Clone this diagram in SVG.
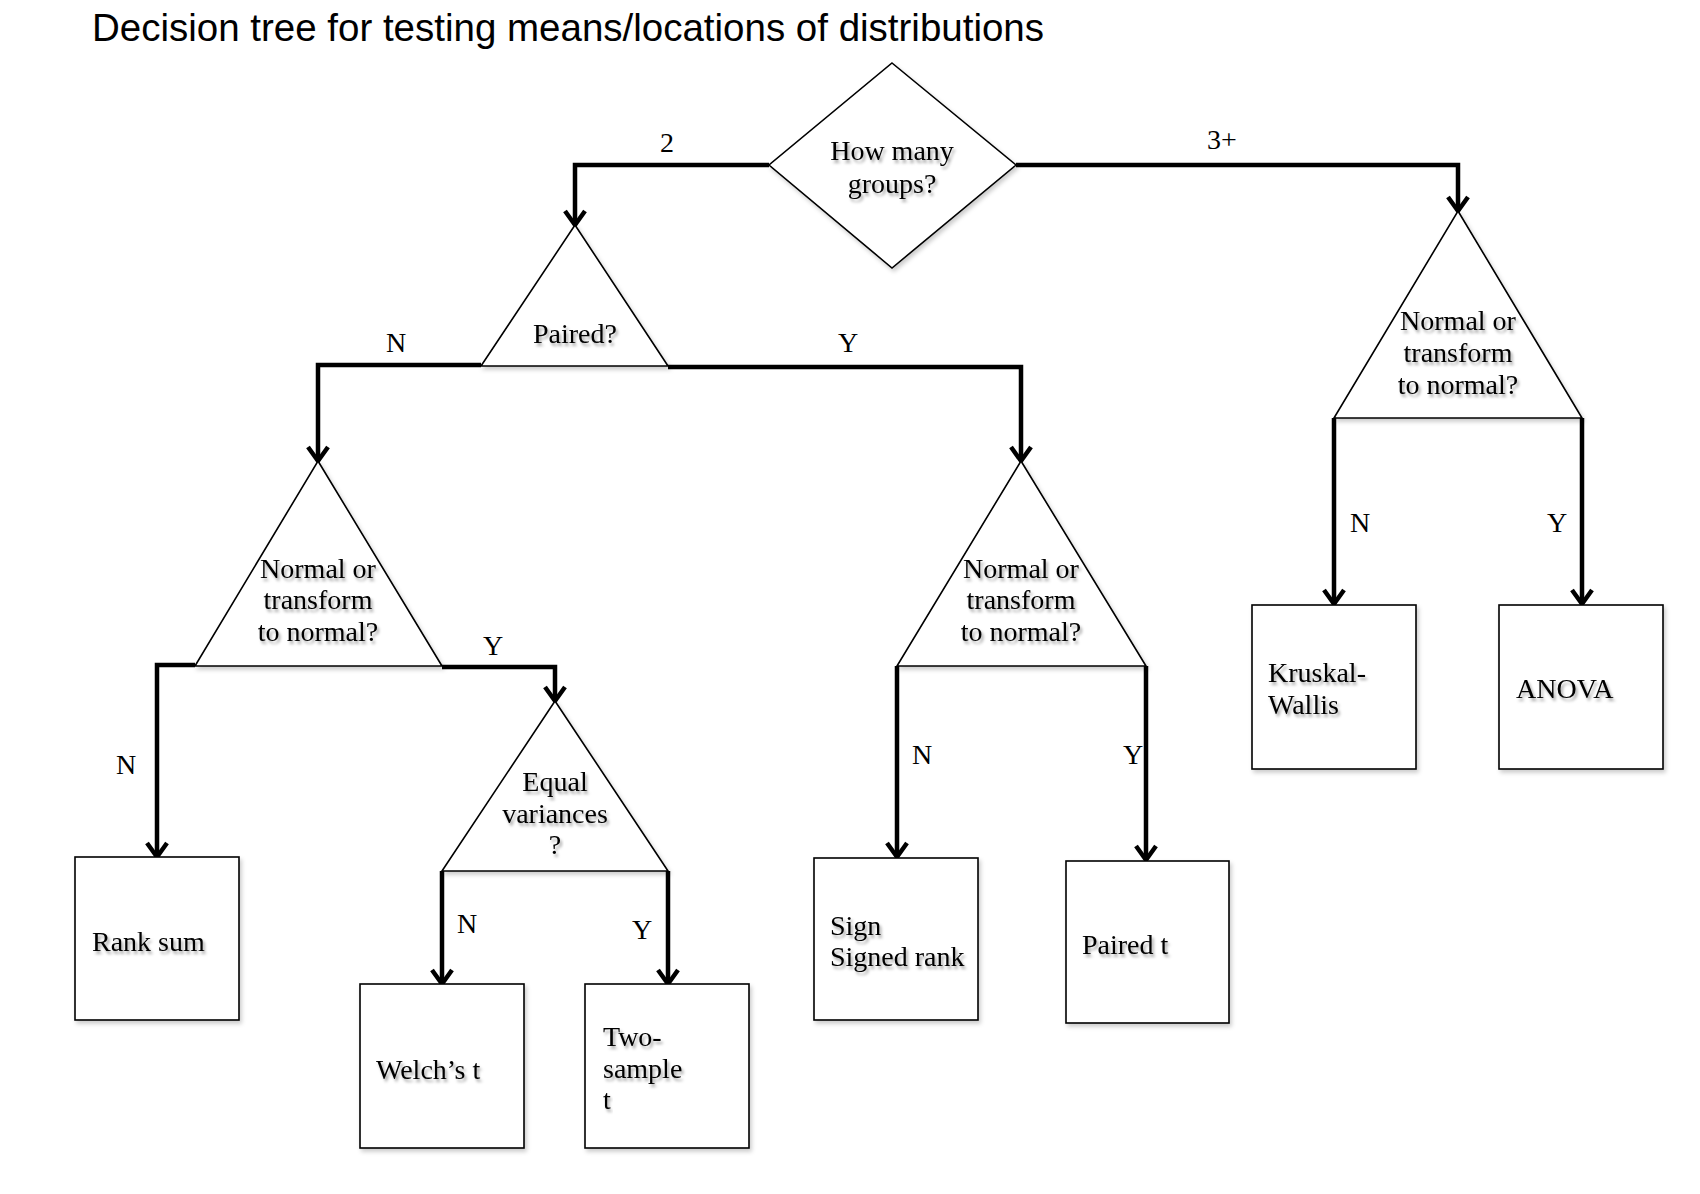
<svg xmlns="http://www.w3.org/2000/svg" width="1700" height="1194" viewBox="0 0 1700 1194">
<defs>
<style>
.title{font-family:"Liberation Sans",Arial,sans-serif;font-size:39px;fill:#000}
.shape{fill:#fff;stroke:#000;stroke-width:1.6;filter:url(#bshadow)}
.t{font-family:"Liberation Serif","Times New Roman",serif;font-size:28px;fill:#000;filter:url(#tshadow)}
.c{text-anchor:middle}
.lbl{font-family:"Liberation Serif","Times New Roman",serif;font-size:28px;fill:#000;text-anchor:middle}
.conn{fill:none;stroke:#000;stroke-width:4.5;stroke-linejoin:miter;marker-end:url(#arrow)}
</style>
<marker id="arrow" markerUnits="userSpaceOnUse" markerWidth="30" markerHeight="30" refX="0" refY="0" viewBox="-20 -15 25 30" orient="auto" overflow="visible">
<path d="M-14,-10 L0,0 L-14,10" fill="none" stroke="#000" stroke-width="4.5" stroke-linejoin="miter"/>
</marker>
<filter id="tshadow" x="-10%" y="-30%" width="130%" height="170%">
<feDropShadow dx="2" dy="3" stdDeviation="1.6" flood-color="#000" flood-opacity="0.35"/>
</filter>
<filter id="bshadow" x="-10%" y="-10%" width="125%" height="125%">
<feDropShadow dx="2" dy="3" stdDeviation="2" flood-color="#000" flood-opacity="0.2"/>
</filter>
</defs>
<rect width="1700" height="1194" fill="#fff"/>
<text class="title" x="92" y="41" textLength="952" lengthAdjust="spacingAndGlyphs">Decision tree for testing means/locations of distributions</text>

<g id="connectors">
<path class="conn" d="M769,165 H575 V225"/>
<path class="conn" d="M1016,165 H1458 V211"/>
<path class="conn" d="M481,365 H318 V461"/>
<path class="conn" d="M668,367 H1021 V461"/>
<path class="conn" d="M195,665 H157 V857"/>
<path class="conn" d="M442,667 H555 V701"/>
<path class="conn" d="M442,871 V984"/>
<path class="conn" d="M668,871 V984"/>
<path class="conn" d="M897,666 V857"/>
<path class="conn" d="M1146,666 V860"/>
<path class="conn" d="M1334,418 V604"/>
<path class="conn" d="M1582,418 V604"/>
<text class="lbl" x="667" y="152">2</text>
<text class="lbl" x="1222" y="149">3+</text>
<text class="lbl" x="396" y="352">N</text>
<text class="lbl" x="848" y="352">Y</text>
<text class="lbl" x="126" y="774">N</text>
<text class="lbl" x="493" y="655">Y</text>
<text class="lbl" x="467" y="933">N</text>
<text class="lbl" x="642" y="939">Y</text>
<text class="lbl" x="922" y="764">N</text>
<text class="lbl" x="1133" y="764">Y</text>
<text class="lbl" x="1360" y="532">N</text>
<text class="lbl" x="1557" y="532">Y</text>
</g>

<g id="n-groups">
<polygon class="shape" points="892,63 1016,165 892,268 769,165"/>
<text class="t c" x="892" y="160">How many</text>
<text class="t c" x="892" y="193">groups?</text>
</g>

<g id="n-paired">
<polygon class="shape" points="575,225 668,366 481,366"/>
<text class="t c" x="575" y="343">Paired?</text>
</g>

<g id="n-normal-left">
<polygon class="shape" points="318,461 442,666 195,666"/>
<text class="t c" x="318" y="578">Normal or</text>
<text class="t c" x="318" y="609">transform</text>
<text class="t c" x="318" y="641">to normal?</text>
</g>

<g id="n-equal">
<polygon class="shape" points="555,701 668,871 442,871"/>
<text class="t c" x="555" y="791">Equal</text>
<text class="t c" x="555" y="823">variances</text>
<text class="t c" x="555" y="854">?</text>
</g>

<g id="n-normal-paired">
<polygon class="shape" points="1021,461 1146,666 897,666"/>
<text class="t c" x="1021" y="578">Normal or</text>
<text class="t c" x="1021" y="609">transform</text>
<text class="t c" x="1021" y="641">to normal?</text>
</g>

<g id="n-normal-3">
<polygon class="shape" points="1458,211 1582,418 1334,418"/>
<text class="t c" x="1458" y="330">Normal or</text>
<text class="t c" x="1458" y="362">transform</text>
<text class="t c" x="1458" y="394">to normal?</text>
</g>

<g id="n-ranksum">
<rect class="shape" x="75" y="857" width="164" height="163"/>
<text class="t" x="92" y="951">Rank sum</text>
</g>

<g id="n-welch">
<rect class="shape" x="360" y="984" width="164" height="164"/>
<text class="t" x="376" y="1079">Welch’s t</text>
</g>

<g id="n-twosample">
<rect class="shape" x="585" y="984" width="164" height="164"/>
<text class="t" x="603" y="1046">Two-</text>
<text class="t" x="603" y="1078">sample</text>
<text class="t" x="603" y="1109">t</text>
</g>

<g id="n-sign">
<rect class="shape" x="814" y="858" width="164" height="162"/>
<text class="t" x="830" y="935">Sign</text>
<text class="t" x="830" y="966">Signed rank</text>
</g>

<g id="n-pairedt">
<rect class="shape" x="1066" y="861" width="163" height="162"/>
<text class="t" x="1082" y="954">Paired t</text>
</g>

<g id="n-kruskal">
<rect class="shape" x="1252" y="605" width="164" height="164"/>
<text class="t" x="1268" y="682">Kruskal-</text>
<text class="t" x="1268" y="714">Wallis</text>
</g>

<g id="n-anova">
<rect class="shape" x="1499" y="605" width="164" height="164"/>
<text class="t" x="1516" y="698">ANOVA</text>
</g>
</svg>
